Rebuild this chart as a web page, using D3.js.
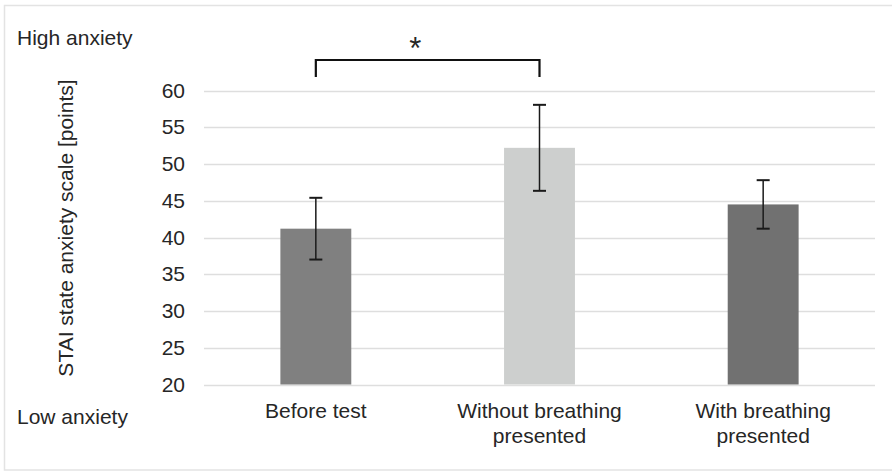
<!DOCTYPE html>
<html><head><meta charset="utf-8">
<script src="https://cdn.jsdelivr.net/npm/d3@7"></script>
<style>body{margin:0;background:#fff}svg{display:block;font-family:"Liberation Sans",Arial,sans-serif}</style>
</head><body><svg id="c" width="892" height="472"></svg>
<script>
const categories = [["Before test"], ["Without breathing", "presented"], ["With breathing", "presented"]];
const means = [41.2, 52.2, 44.5];
const errors = [4.2, 5.85, 3.3];
const barColors = ["#808080", "#cdcfce", "#717171"];
const yTicks = [20, 25, 30, 35, 40, 45, 50, 55, 60];
const yTitle = "STAI state anxiety scale [points]";
const highLabel = "High anxiety", lowLabel = "Low anxiety";
const sigLabel = "*";
const FS = 21;

const svg = d3.select("#c");
svg.append("rect").attr("x",4.5).attr("y",5.5).attr("width",900).attr("height",464.5).attr("fill","#fff").attr("stroke","#e3e3e3").attr("stroke-width",1.5);

const x = d3.scaleBand().domain(d3.range(categories.length)).range([204, 875]).paddingInner(0.683).paddingOuter(0.3415);
const y = d3.scaleLinear().domain([20, 60]).range([384.5, 90.5]);

// gridlines
svg.append("g").selectAll("line").data(yTicks).join("line")
  .attr("x1",204).attr("x2",875).attr("y1",d=>Math.round(y(d))+0.5).attr("y2",d=>Math.round(y(d))+0.5)
  .attr("stroke","#dedede").attr("stroke-width",1.4);

// y axis labels
const yAxis = d3.axisLeft(y).tickValues(yTicks).tickSize(0).tickPadding(0);
const ga = svg.append("g").attr("transform","translate(185,0)").call(yAxis);
ga.select(".domain").remove();
ga.selectAll("text").attr("font-size",FS).attr("fill","#262626").attr("font-family","Liberation Sans, Arial, sans-serif");

// bars
svg.append("g").selectAll("rect").data(means).join("rect")
  .attr("x",(d,i)=>x(i)).attr("width",x.bandwidth())
  .attr("y",d=>y(d)).attr("height",d=>y(20)-y(d)).attr("fill",(d,i)=>barColors[i]);

// error bars
const eb = svg.append("g").attr("stroke","#1a1a1a").attr("stroke-width",1.5);
means.forEach((m,i)=>{
  const cx = x(i)+x.bandwidth()/2;
  eb.append("line").attr("x1",cx).attr("x2",cx).attr("y1",y(m+errors[i])).attr("y2",y(m-errors[i]));
  eb.append("line").attr("x1",cx-6.5).attr("x2",cx+6.5).attr("y1",y(m+errors[i])).attr("y2",y(m+errors[i])).attr("stroke-width",2);
  eb.append("line").attr("x1",cx-6.5).attr("x2",cx+6.5).attr("y1",y(m-errors[i])).attr("y2",y(m-errors[i])).attr("stroke-width",2);
});

// significance bracket
const c0 = x(0)+x.bandwidth()/2, c1 = x(1)+x.bandwidth()/2;
svg.append("path").attr("d",`M${c0},77V60H${c1}V77`).attr("fill","none").attr("stroke","#111").attr("stroke-width",2.2);
svg.append("text").attr("x",c0+(c1-c0)*0.445).attr("y",59).attr("text-anchor","middle").attr("font-size",31).attr("fill","#262626").text(sigLabel);

// category labels
categories.forEach((lines,i)=>{
  const cx = x(i)+x.bandwidth()/2;
  const t = svg.append("text").attr("text-anchor","middle").attr("font-size",FS).attr("fill","#262626");
  lines.forEach((s,j)=>t.append("tspan").attr("x",cx).attr("y",418+j*24.5).text(s));
});

// axis title
svg.append("text").attr("transform","translate(73,228) rotate(-90)").attr("text-anchor","middle")
  .attr("font-size",FS).attr("fill","#262626").text(yTitle);
svg.append("text").attr("x",17).attr("y",45).attr("font-size",FS).attr("fill","#262626").text(highLabel);
svg.append("text").attr("x",17).attr("y",424).attr("font-size",FS).attr("fill","#262626").text(lowLabel);
</script></body></html>
